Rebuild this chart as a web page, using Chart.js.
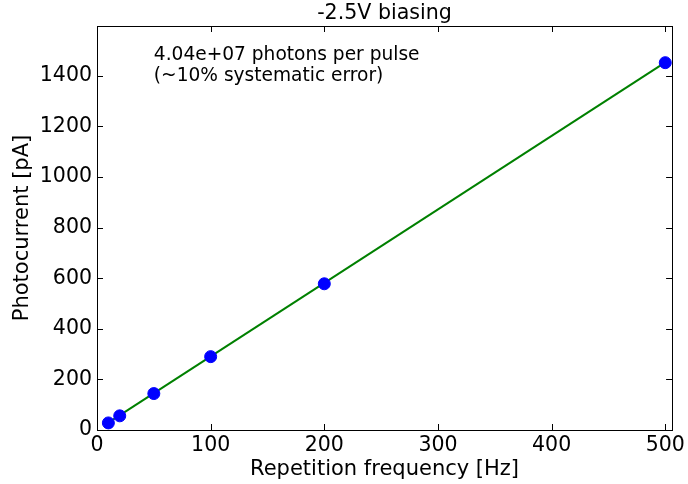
<!DOCTYPE html>
<html>
<head>
<meta charset="utf-8">
<script src="https://cdn.jsdelivr.net/npm/chart.js@4/dist/chart.umd.min.js"></script>
<style>
  html, body { margin: 0; padding: 0; background: #fff; }
  #graph { display: block; }
</style>
</head>
<body>
<canvas id="graph" width="688" height="484" style="width:688px;height:484px"></canvas>
<script>
// measured points
const freqHz = [10, 20, 50, 100, 200, 500]
const currentPA = [28, 56, 144, 290, 578, 1452]

// linear fit drawn through the data
const fitX = [10, 500]
const fitY = [29, 1453]

const xTicks = [0, 100, 200, 300, 400, 500]
const yTicks = [0, 200, 400, 600, 800, 1000, 1200, 1400]

const FONT = "'DejaVu Sans', sans-serif"

// frame, inward ticks on all four sides, title and note
const decor = {
    id: 'decor',
    afterDraw(chart) {
        const ctx = chart.ctx
        const a = chart.chartArea
        const sx = chart.scales.x, sy = chart.scales.y
        ctx.save()
        ctx.strokeStyle = '#000'
        ctx.lineWidth = 1
        ctx.beginPath()
        xTicks.forEach(v => {
            const px = Math.round(sx.getPixelForValue(v)) + 0.5
            ctx.moveTo(px, a.bottom); ctx.lineTo(px, a.bottom - 6)
            ctx.moveTo(px, a.top); ctx.lineTo(px, a.top + 6)
        })
        yTicks.forEach(v => {
            const py = Math.round(sy.getPixelForValue(v)) + 0.5
            ctx.moveTo(a.left, py); ctx.lineTo(a.left + 6, py)
            ctx.moveTo(a.right, py); ctx.lineTo(a.right - 6, py)
        })
        ctx.stroke()
        ctx.strokeRect(Math.round(a.left) + 0.5, Math.round(a.top) + 0.5,
            Math.round(a.right - a.left), Math.round(a.bottom - a.top))

        ctx.fillStyle = '#000'
        ctx.textAlign = 'center'
        ctx.textBaseline = 'middle'
        ctx.font = '20.6px ' + FONT
        ctx.fillText('-2.5V biasing', (a.left + a.right) / 2, 14)

        ctx.textAlign = 'left'
        ctx.font = '18.6px ' + FONT
        const tx = sx.getPixelForValue(50)
        ctx.fillText('4.04e+07 photons per pulse', tx, 55)
        ctx.fillText('(~10% systematic error)', tx, 76)
        ctx.restore()
    }
}

const data = {
    datasets: [{
        type: 'line',
        label: 'fit',
        data: fitX.map((x, i) => ({ x, y: fitY[i] })),
        borderColor: '#008000',
        borderWidth: 2,
        pointRadius: 0,
        fill: false,
        order: 2
    }, {
        type: 'scatter',
        label: 'data',
        data: freqHz.map((x, i) => ({ x, y: currentPA[i] })),
        backgroundColor: '#0000ff',
        borderColor: '#0000ff',
        pointRadius: 6,
        order: 1
    }]
}

const config = {
    data: data,
    options: {
        responsive: false,
        animation: false,
        layout: { padding: { top: 26, right: 14, left: 0, bottom: 0 } },
        plugins: { legend: { display: false }, tooltip: { enabled: false } },
        scales: {
            x: {
                type: 'linear',
                min: 0,
                max: 506,
                afterBuildTicks: s => { s.ticks = xTicks.map(v => ({ value: v })) },
                afterFit: s => { s.height = 54 },
                grid: { display: false, drawTicks: false },
                border: { display: false },
                ticks: {
                    color: '#000', font: { family: FONT, size: 20.5 }, padding: 3, maxRotation: 0,
                    callback: v => String(v)
                },
                title: {
                    display: true,
                    text: 'Repetition frequency [Hz]',
                    color: '#000',
                    font: { family: FONT, size: 21 },
                    padding: { bottom: 2 }
                }
            },
            y: {
                type: 'linear',
                min: 0,
                max: 1597,
                afterBuildTicks: s => { s.ticks = yTicks.map(v => ({ value: v })) },
                afterFit: s => { s.width = 97 },
                grid: { display: false, drawTicks: false },
                border: { display: false },
                ticks: {
                    color: '#000', font: { family: FONT, size: 20.5 }, padding: 5,
                    callback: v => String(v)
                },
                title: {
                    display: true,
                    text: 'Photocurrent [pA]',
                    color: '#000',
                    font: { family: FONT, size: 21 },
                    padding: { top: 10 }
                }
            }
        }
    },
    plugins: [decor]
}

const graph = new Chart(document.getElementById('graph').getContext('2d'), config)
</script>
</body>
</html>
